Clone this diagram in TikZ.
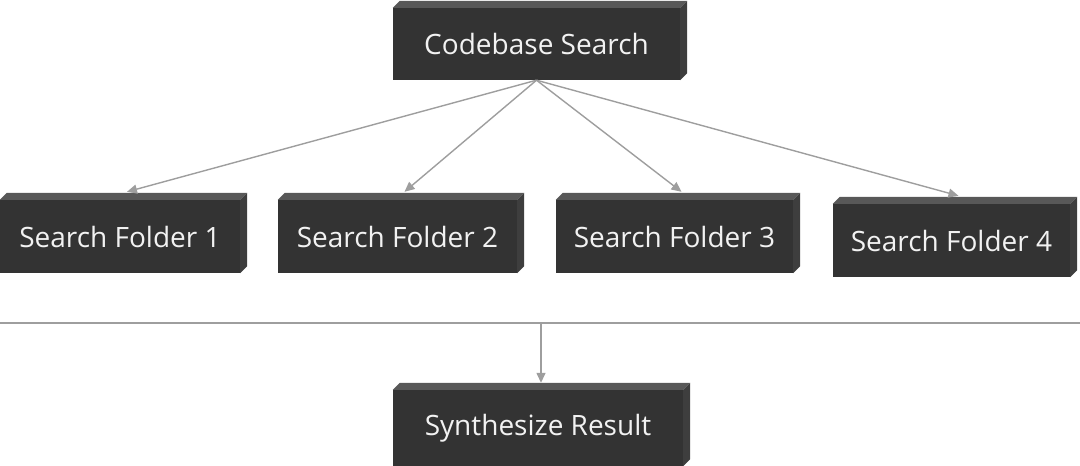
\documentclass[tikz,border=0pt]{standalone}
\usepackage{fontspec}
\setmainfont{Open Sans}
\usetikzlibrary{arrows.meta,positioning,calc}
\definecolor{CajaFrente}{RGB}{51,51,51}
\definecolor{CajaTapa}{RGB}{88,88,88}
\definecolor{CajaLado}{RGB}{62,62,62}
\definecolor{Linea}{RGB}{158,158,158}
\tikzset{
  cajabox/.style={fill=CajaFrente, text=white!95!black, minimum width=#1, minimum height=73pt,
    inner sep=0pt, font=\fontsize{28}{32}\selectfont},
  cajabox/.default=240pt,
  flecha/.style={-{Triangle[length=10pt, width=9pt]}, line width=1.4pt, Linea},
  sepline/.style={line width=1.4pt, Linea},
}
% tapa y lado de cada caja
\newcommand{\cajafondo}[1]{%
  \fill[CajaTapa] (#1.north west) -- ++(7,-7) -- ([shift={(7,-7)}]#1.north east) -- (#1.north east) -- cycle;
  \fill[CajaLado] (#1.north east) -- ++(7,-7) -- ([shift={(7,-7)}]#1.south east) -- (#1.south east) -- cycle;}

\begin{document}
\begin{tikzpicture}[x=1pt, y=-1pt]
  \useasboundingbox (0,0) rectangle (1080,466);
  \node[cajabox=287pt, minimum height=72pt] (codigo) at (536.5,44) {Codebase Search};
  \node[cajabox=240pt] (carpeta1) at (120,236.5) {Search Folder 1};
  \node[cajabox=239pt] (carpeta2) at (397.5,236.5) {Search Folder 2};
  \node[cajabox=237pt] (carpeta3) at (674.5,236.5) {Search Folder 3};
  \node[cajabox=237pt] (carpeta4) at (951.5,240.5) {Search Folder 4};
  \node[cajabox=290pt, minimum height=76pt] (sintesis) at (538,428) {Synthesize Result};
  \foreach \n in {codigo,carpeta1,carpeta2,carpeta3,carpeta4,sintesis}
    \cajafondo{\n};
  \foreach \n in {carpeta1,carpeta2,carpeta3,carpeta4}
    \draw[flecha] (codigo.south) -- ([shift={(7,-8)}]\n.north);
  \coordinate (sepIzq) at (0,323);
  \coordinate (sepDer) at (1080,323);
  \coordinate (sepMedio) at (541,323);
  \draw[sepline] (sepIzq) -- (sepDer);
  \draw[flecha] (sepMedio) -- ([shift={(3,-7)}]sintesis.north);
\end{tikzpicture}
\end{document}
